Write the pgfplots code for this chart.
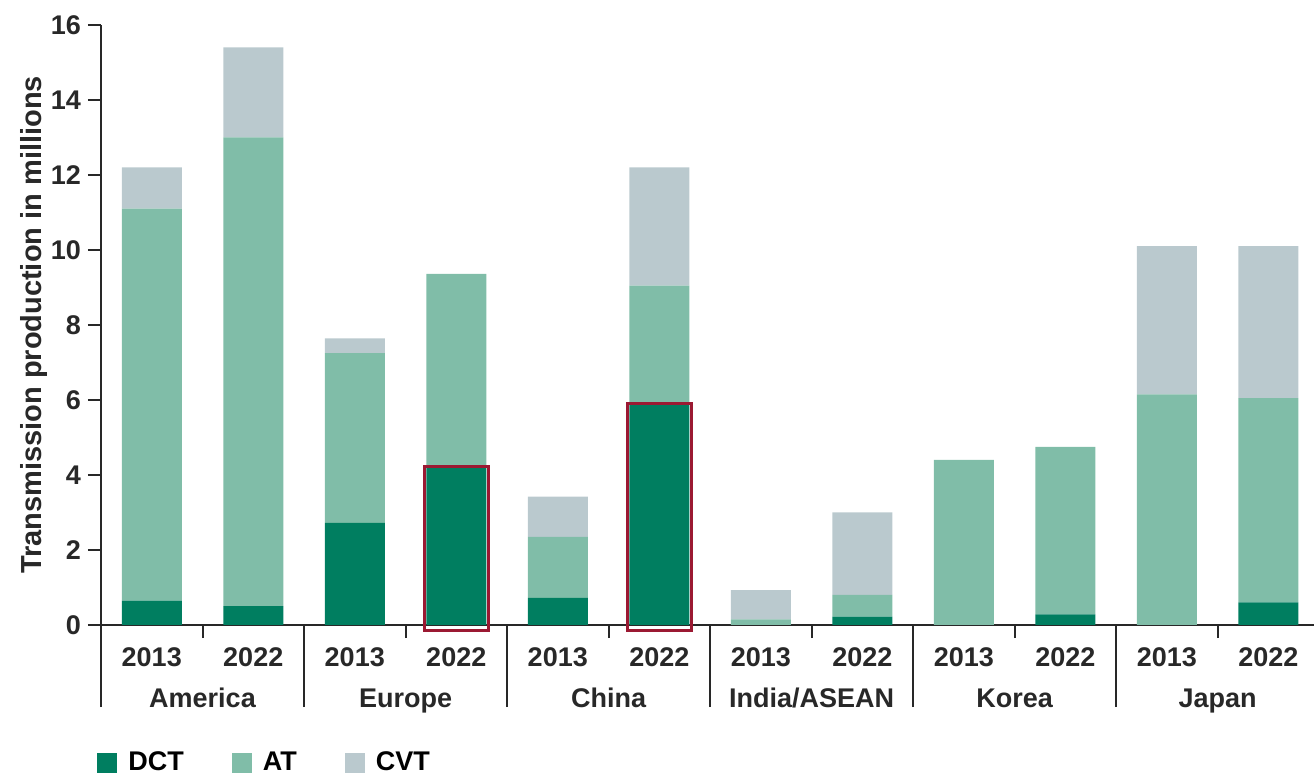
\documentclass[border=0pt]{standalone}
\usepackage{fontspec}
\setmainfont{Liberation Sans}
\usepackage{pgfplots}
\usepackage{pgfplotstable}
\pgfplotsset{compat=1.18}
\definecolor{dct}{RGB}{0,126,96}
\definecolor{atc}{RGB}{128,189,168}
\definecolor{cvt}{RGB}{186,201,206}
\definecolor{hl}{RGB}{155,25,50}
\definecolor{axc}{RGB}{40,40,40}
\newcommand{\lf}{\fontsize{13.5}{16}\selectfont\bfseries}

\pgfplotstableread{
x dct at cvt
0  0.65 10.45 1.10
1  0.50 12.50 2.40
2  2.72 4.53 0.39
3  4.22 5.14 0.00
4  0.72 1.63 1.07
5  5.90 3.15 3.15
6  0.00 0.15 0.78
7  0.22 0.58 2.20
8  0.00 4.40 0.00
9  0.28 4.47 0.00
10 0.00 6.15 3.95
11 0.60 5.45 4.05
}\data

% highlighted DCT bars (value + 0.16 because the outline starts 3pt below the axis)
\pgfplotstableread{
x dct
3 4.38
5 6.06
}\hilite

\begin{document}
\begin{tikzpicture}
\useasboundingbox (-50.5pt,-76pt) rectangle (606.5pt,312.5pt);
\begin{axis}[
  at={(0,0)}, anchor=south west, scale only axis,
  width=606.5pt, height=300pt,
  xmin=-0.5, xmax=11.45, ymin=0, ymax=16,
  ybar stacked, bar width=30pt,
  axis x line=bottom, axis y line=left,
  axis line style={-, draw=axc, line width=1pt},
  tick align=outside,
  major tick length=6.5pt,
  minor tick length=41pt,
  ytick={0,2,...,16},
  ytick style={draw=axc, line width=1pt},
  xtick={0,...,11},
  xticklabels={2013,2022,2013,2022,2013,2022,2013,2022,2013,2022,2013,2022},
  major x tick style={draw=none},
  minor xtick={-0.5,1.5,3.5,5.5,7.5,9.5},
  minor x tick style={draw=axc, line width=1pt},
  extra x ticks={0.5,2.5,4.5,6.5,8.5,10.5},
  extra x tick labels={America,Europe,China,India/ASEAN,Korea,Japan},
  extra x tick style={major x tick style={draw=axc, line width=1pt},
     xticklabel style={anchor=base, yshift=-20.5pt}},
  /pgf/number format/assume math mode=true,
  tick label style={font=\lf, text=axc},
  xticklabel style={anchor=base, yshift=-14pt},
  ylabel={Transmission production in millions},
  ylabel shift=-5pt,
  ylabel style={font=\fontsize{14.5}{17}\selectfont\bfseries, text=axc},
  legend image code/.code={\fill[#1] (0pt,-5pt) rectangle (10pt,5pt); \path (13.5pt,0pt);},
  legend style={at={(0,0)}, anchor=west, xshift=-2pt, yshift=-69pt,
     draw=none, fill=none, inner sep=0pt, font=\lf,
     legend columns=3,
     /tikz/every even column/.append style={column sep=22pt}},
  clip=false,
]
\addplot[fill=dct, draw=none] table[x=x, y=dct] {\data};
\addplot[fill=atc, draw=none] table[x=x, y=at] {\data};
\addplot[fill=cvt, draw=none] table[x=x, y=cvt] {\data};
\legend{DCT, AT, CVT}
\end{axis}
\begin{axis}[
  at={(0,-3pt)}, anchor=south west, scale only axis,
  width=606.5pt, height=300pt,
  xmin=-0.5, xmax=11.45, ymin=0, ymax=16,
  hide axis, clip=false,
  ybar, bar width=32pt,
]
\addplot[draw=hl, line width=1.5pt, fill=none] table[x=x, y=dct] {\hilite};
\end{axis}
\end{tikzpicture}
\end{document}
